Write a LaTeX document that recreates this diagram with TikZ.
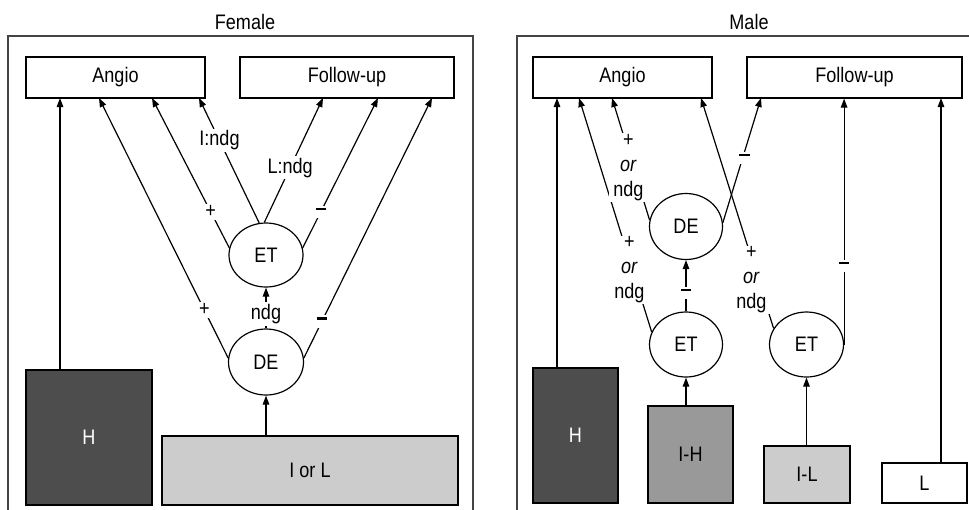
\documentclass[tikz,border=0pt]{standalone}
\usepackage{fontspec}
\setmainfont[FakeStretch=0.86]{Liberation Sans}
\usetikzlibrary{arrows.meta,shapes.geometric}
\definecolor{hdark}{HTML}{4D4D4D}
\definecolor{hmid}{HTML}{999999}
\definecolor{hlight}{HTML}{CCCCCC}
\definecolor{framec}{HTML}{444444}
\newcommand{\mdash}{\rule[0.3em]{10.5pt}{2.2pt}}
\begin{document}
\begin{tikzpicture}[x=1pt,y=-1pt,
  font=\fontsize{21}{25}\selectfont,
  box/.style={draw=black, line width=1.2pt, rectangle, inner sep=0pt},
  oval/.style={draw=black, ellipse, line width=1.2pt, inner sep=0pt},
  arr/.style={line width=1.2pt, -{Triangle[length=9pt,width=6.5pt]}},
  lab/.style={fill=white, inner sep=2pt},
  labthree/.style={fill=white, inner xsep=4pt, inner ysep=1pt, align=center, font=\fontsize{21}{25}\selectfont},
  framestyle/.style={draw=framec, line width=1.4pt}]
\useasboundingbox (0,0) rectangle (969,509);

% ---------------- Female ----------------
\draw[framestyle] (8,512) -- (8,36) -- (473,36) -- (473,512);
\node (titleF) at (245,22) {Female};
\node[box, minimum width=179pt, minimum height=41pt] (angioF) at (115.5,77.5) {Angio};
\node[box, minimum width=214pt, minimum height=41pt] (followF) at (347,77.5) {Follow-up};
\node[box, fill=hdark, text=white, minimum width=126pt, minimum height=135pt] (hF) at (89,437.5) {H};
\node[box, fill=hlight, minimum width=296pt, minimum height=69pt] (iolF) at (310,470.5) {I or L};
\node[oval, minimum width=74pt, minimum height=64pt] (etF) at (266,255) {ET};
\node[oval, minimum width=75pt, minimum height=66pt] (deF) at (266,362) {DE};

\coordinate (fa1) at (60,98);
\coordinate (fa2) at (99,98);
\coordinate (fa3) at (152,98);
\coordinate (fa4) at (199,98);
\coordinate (ff1) at (323,98);
\coordinate (ff2) at (378,98);
\coordinate (ff3) at (432,98);

\draw[arr] (hF.north -| fa1) -- (fa1);
\draw[arr] (deF.174) -- node[lab,pos=0.185]{+} (fa2);
\draw[arr] (etF.169) -- node[lab,pos=0.24]{+} (fa3);
\draw[arr] (etF.102) -- node[lab,pos=0.66]{I:ndg} (fa4);
\draw[arr] (etF.93) -- node[lab,pos=0.44]{L:ndg} (ff1);
\draw[arr] (etF.11) -- node[lab,pos=0.24]{\mdash} (ff2);
\draw[arr] (deF.6) -- node[lab,pos=0.14]{\mdash} (ff3);
\draw[arr] (iolF.north -| deF.south) -- (deF.south);
\draw[arr] (deF.north) -- node[lab,pos=0.36]{ndg} (etF.south);

% ---------------- Male ----------------
\draw[framestyle] (517,512) -- (517,36) -- (972,36);
\node (titleM) at (749,22) {Male};
\node[box, minimum width=179pt, minimum height=41pt] (angioM) at (622.5,77.5) {Angio};
\node[box, minimum width=215pt, minimum height=41pt] (followM) at (854.5,77.5) {Follow-up};
\node[box, fill=hdark, text=white, minimum width=85pt, minimum height=135pt] (hM) at (575.5,435.5) {H};
\node[box, fill=hmid, minimum width=85pt, minimum height=97pt] (ihM) at (690.5,454.5) {I-H};
\node[box, fill=hlight, minimum width=86pt, minimum height=57pt] (ilM) at (807,474.5) {I-L};
\node[box, fill=white, minimum width=85pt, minimum height=40pt] (lM) at (924.5,483) {L};
\node[oval, minimum width=73pt, minimum height=65pt] (etaM) at (686,344.5) {ET};
\node[oval, minimum width=73pt, minimum height=66pt] (deM) at (686,226.5) {DE};
\node[oval, minimum width=74pt, minimum height=65pt] (etbM) at (806.5,344.5) {ET};

\coordinate (ma1) at (557,98);
\coordinate (ma2) at (579,98);
\coordinate (ma3) at (612,98);
\coordinate (ma4) at (701,98);
\coordinate (mf1) at (761,98);
\coordinate (mf2) at (etbM.east |- followM.south);
\coordinate (mf3) at (941,98);

\draw[arr] (hM.north -| ma1) -- (ma1);
\draw[arr] (etaM.160) -- node[labthree,pos=0.265,xshift=-3pt]{+\\\textit{or}\\ndg} (ma2);
\draw[arr] (deM.170) -- node[labthree,pos=0.43,xshift=-5pt]{+\\\textit{or}\\ndg} (ma3);
\draw[arr] (deM.6) -- node[lab,pos=0.52,xshift=2pt]{\mdash} (mf1);
\draw[arr] (etbM.154) -- node[labthree,pos=0.21,xshift=-7pt]{+\\\textit{or}\\ndg} (ma4);
\draw[arr] (etbM.east) -- node[lab,pos=0.32]{\mdash} (mf2);
\draw[arr] (lM.north -| mf3) -- (mf3);
\draw[arr] (ihM.north -| etaM.south) -- (etaM.south);
\draw[arr] (ilM.north -| etbM.south) -- (etbM.south);
\draw[arr] (etaM.north) -- node[lab,pos=0.36]{\mdash} (deM.south);
\end{tikzpicture}
\end{document}
